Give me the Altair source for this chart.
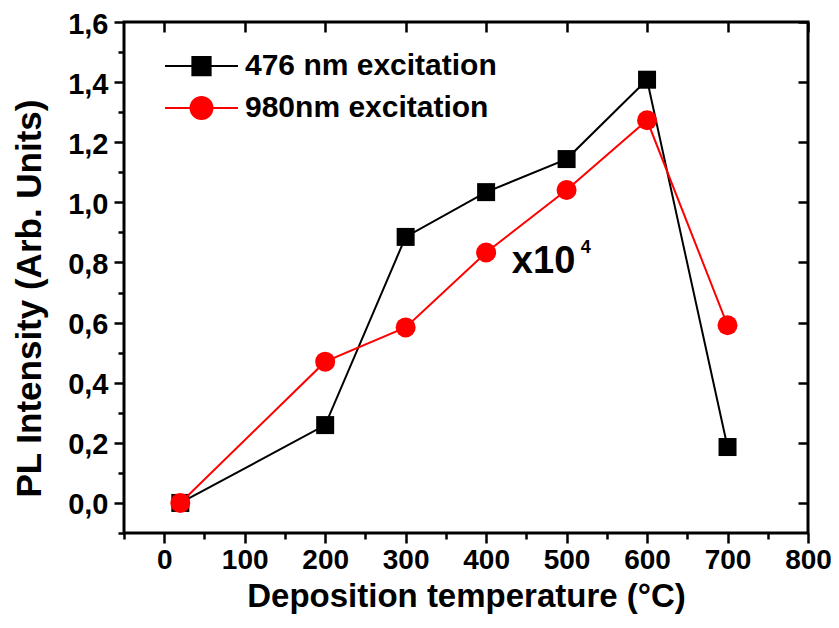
import altair as alt
import pandas as pd

temps = [20, 200, 300, 400, 500, 600, 700]
pl_476 = [0.0, 0.259, 0.885, 1.034, 1.144, 1.408, 0.186]
pl_980 = [0.0, 0.47, 0.584, 0.833, 1.041, 1.273, 0.591]
series_names = ["476 nm excitation", "980nm excitation"]
series_colors = ["#000000", "#ff0000"]

x_ticks = [-50, 0, 50, 100, 150, 200, 250, 300, 350, 400, 450, 500, 550, 600, 650, 700, 750, 800]
x_major = [0, 100, 200, 300, 400, 500, 600, 700, 800]
y_ticks = [-0.1, 0.0, 0.1, 0.2, 0.3, 0.4, 0.5, 0.6, 0.7, 0.8, 0.9, 1.0, 1.1, 1.2, 1.3, 1.4, 1.5, 1.6]
y_major = [0.0, 0.2, 0.4, 0.6, 0.8, 1.0, 1.2, 1.4, 1.6]

note_x = [432]
note_y = [0.766]
note_text = ["x10"]
note_sup = ["4"]

df = pd.DataFrame({
    "temp": temps * 2,
    "pl": pl_476 + pl_980,
    "series": [series_names[0]] * len(temps) + [series_names[1]] * len(temps),
})
note_df = pd.DataFrame({"x": note_x, "y": note_y, "t": note_text, "s": note_sup})

FONT = "Liberation Sans"
xscale = alt.Scale(domain=[-50, 800], nice=False, zero=False)
yscale = alt.Scale(domain=[-0.1, 1.6], nice=False, zero=False)

x_axis = alt.Axis(
    orient="bottom", values=x_ticks, domain=False, grid=False,
    tickSize={"condition": {"test": "datum.value % 100 === 0", "value": 10}, "value": 6},
    tickWidth=2.5, tickColor="black",
    labelExpr="datum.value % 100 === 0 ? datum.label : ''",
    labelFont=FONT, labelFontSize=28, labelFontWeight="bold", labelColor="black",
    labelPadding=3, labelFlush=False, labelOverlap=False,
    title="Deposition temperature (°C)", titleFont=FONT, titleFontSize=33,
    titleFontWeight="bold", titleColor="black", titleBaseline="alphabetic", titleY=73,
)
y_axis = alt.Axis(
    orient="left", values=y_ticks, domain=False, grid=False,
    tickSize={"condition": {"test": "round(datum.value * 10) % 2 === 0", "value": 10}, "value": 6},
    tickWidth=2.5, tickColor="black",
    labelExpr="round(datum.value * 10) % 2 === 0 ? replace(format(datum.value, '.1f'), '.', ',') : ''",
    labelFont=FONT, labelFontSize=29, labelFontWeight="bold", labelColor="black",
    labelPadding=6, labelOffset=2, labelFlush=False, labelOverlap=False,
    title="PL Intensity (Arb. Units)", titleFont=FONT, titleFontSize=35,
    titleFontWeight="bold", titleColor="black", titleBaseline="alphabetic",
    titleAngle=270, titleX=-84, titleY=276,
)
top_axis = alt.Axis(orient="top", values=x_major, domain=False, grid=False, labels=False,
                    tickSize=10, tickWidth=2.5, tickColor="black", offset=-10, title=None)
right_axis = alt.Axis(orient="right", values=y_major, domain=False, grid=False, labels=False,
                      tickSize=10, tickWidth=2.5, tickColor="black", offset=-10, title=None)

def cs():
    return alt.Scale(domain=series_names, range=series_colors)

def enc_base(layer, xa=None, ya=None):
    return layer.encode(
        x=alt.X("temp:Q", scale=xscale, axis=xa),
        y=alt.Y("pl:Q", scale=yscale, axis=ya),
        color=alt.Color("series:N", scale=cs(), legend=None),
    )

base = alt.Chart(df)
line_b = enc_base(base.transform_filter(alt.datum.series == series_names[0]).mark_line(strokeWidth=2), x_axis, y_axis)
pts_b = enc_base(base.transform_filter(alt.datum.series == series_names[0]).mark_point(shape="square", filled=True, size=324, opacity=1))
line_r = enc_base(base.transform_filter(alt.datum.series == series_names[1]).mark_line(strokeWidth=2))
pts_r = enc_base(base.transform_filter(alt.datum.series == series_names[1]).mark_point(shape="circle", filled=True, size=400, opacity=1))

sq_path = "M-1,0H1M-0.25,-0.25H0.25V0.25H-0.25Z"
ci_path = "M-1,0H1M0.3,0A0.3,0.3,0,1,1,-0.3,0A0.3,0.3,0,1,1,0.3,0Z"
legend = alt.Legend(
    title=None, orient="none", legendX=40, legendY=23,
    symbolSize=5329, symbolStrokeWidth=2, clipHeight=42, rowPadding=0,
    labelFont=FONT, labelFontSize=30, labelFontWeight="bold", labelColor="black",
    labelOffset=6, labelLimit=500, symbolOpacity=1,
)
legend_layer = base.transform_filter("false").mark_point(filled=True, opacity=1).encode(
    x=alt.X("temp:Q", scale=xscale, axis=None),
    y=alt.Y("pl:Q", scale=yscale, axis=None),
    color=alt.Color("series:N", scale=cs(), legend=legend),
    stroke=alt.Stroke("series:N", scale=cs(), legend=legend),
    shape=alt.Shape("series:N", scale=alt.Scale(domain=series_names, range=[sq_path, ci_path]), legend=legend),
)

note = alt.Chart(note_df).mark_text(
    font=FONT, fontSize=38, fontWeight="bold", color="black", align="left", baseline="alphabetic"
).encode(
    x=alt.X("x:Q", scale=xscale, axis=top_axis),
    y=alt.Y("y:Q", scale=yscale, axis=right_axis),
    text="t:N",
)
note_s = alt.Chart(note_df).mark_text(
    font=FONT, fontSize=18, fontWeight="bold", color="black", align="left", baseline="alphabetic", dx=69, dy=-20
).encode(
    x=alt.X("x:Q", scale=xscale, axis=None),
    y=alt.Y("y:Q", scale=yscale, axis=None),
    text="s:N",
)

chart = alt.layer(line_b, pts_b, line_r, pts_r, legend_layer, note, note_s).resolve_axis(
    x="independent", y="independent"
).resolve_scale(
    color="independent", stroke="independent", shape="independent"
).properties(
    width=684, height=511,
    autosize=alt.AutoSizeParams(type="none"),
    padding={"left": 116, "top": 14, "right": 23, "bottom": 82},
    background="white",
).configure_view(stroke="black", strokeWidth=3)

chart.save("out.html", embed_options={"renderer": "svg", "actions": False})
